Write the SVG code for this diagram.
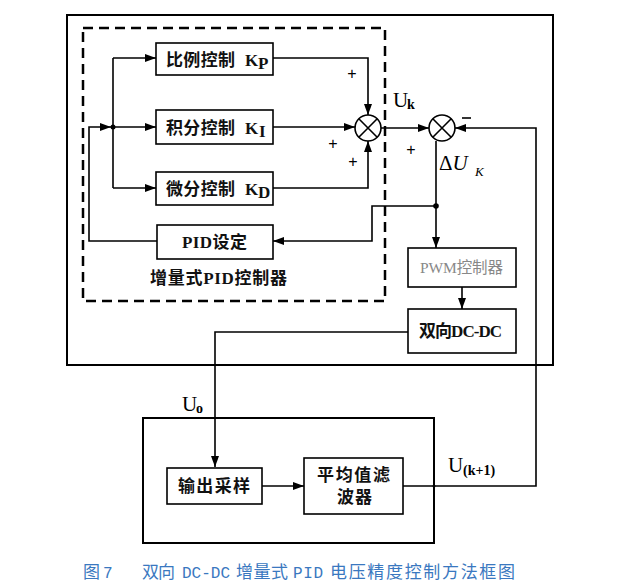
<svg xmlns="http://www.w3.org/2000/svg" width="621" height="587" viewBox="0 0 621 587">
<defs>
<marker id="ah" markerUnits="userSpaceOnUse" markerWidth="12" markerHeight="10" refX="11" refY="4" orient="auto">
<path d="M0,0 L11,4 L0,8 Z" fill="#000"/>
</marker>
<style>
.box{fill:#fff;stroke:#000;stroke-width:1.6}
.frame{fill:none;stroke:#000;stroke-width:2}
.dash{fill:none;stroke:#000;stroke-width:2.5;stroke-dasharray:10 6}
.ln{fill:none;stroke:#000;stroke-width:1.6}
.arr{fill:none;stroke:#000;stroke-width:1.6;marker-end:url(#ah)}
.t{font-family:"Liberation Serif","Noto Sans CJK SC",serif;font-weight:bold;font-size:17px;fill:#111}
.pm{font-family:"Liberation Sans",sans-serif;font-size:16px;fill:#000}
.lbl{font-family:"Liberation Serif",serif;font-size:21px;fill:#000}
.sub{font-family:"Liberation Serif",serif;font-weight:bold;font-size:14px;fill:#000}
.cap{font-family:"Noto Sans CJK SC",sans-serif;font-size:17px;fill:#3a78c0}
.capl{font-family:"Liberation Mono",monospace;font-size:16px;fill:#3a78c0}
</style>
</defs>
<rect width="621" height="587" fill="#fff"/>
<rect class="frame" x="67" y="15" width="486" height="350"/>
<rect class="dash" x="83" y="28" width="302" height="273"/>
<rect class="frame" x="143" y="418" width="291" height="125"/>

<g id="connectors">
<path class="arr" d="M157 241 H89 V127 H111"/>
<path class="ln" d="M113 58 V188"/>
<path class="arr" d="M113 58 H156"/>
<path class="arr" d="M113 127 H156"/>
<path class="arr" d="M113 188 H156"/>
<path class="arr" d="M273 58 H368 V115"/>
<path class="arr" d="M273 127 H355"/>
<path class="arr" d="M273 188 H368 V141"/>
<path class="arr" d="M381 128 H429"/>
<path class="arr" d="M403 486 H536 V128 H455"/>
<path class="arr" d="M436 141 V248"/>
<path class="arr" d="M436 206 H372 V241 H273"/>
<path class="arr" d="M462 287 V309"/>
<path class="arr" d="M408 332 H215 V467"/>
<path class="arr" d="M262 486 H304"/>
<circle cx="113" cy="127" r="2.5" fill="#000"/>
<circle cx="436" cy="206" r="2.8" fill="#000"/>
<circle cx="434" cy="486" r="1.5" fill="#000"/>
</g>

<g id="sum1">
<circle cx="368" cy="128" r="13" fill="#fff" stroke="#000" stroke-width="1.6"/>
<path class="ln" d="M358.8 118.8 L377.2 137.2 M377.2 118.8 L358.8 137.2"/>
</g>
<g id="sum2">
<circle cx="442" cy="128" r="13" fill="#fff" stroke="#000" stroke-width="1.6"/>
<path class="ln" d="M432.8 118.8 L451.2 137.2 M451.2 118.8 L432.8 137.2"/>
</g>

<g id="kp">
<rect class="box" x="156" y="43" width="117" height="32"/>
<text class="t" x="166" y="66" textLength="69">比例控制</text>
<text class="t" x="245" y="66" font-size="16">K</text><text class="t" x="258" y="69" font-size="11">P</text>
</g>
<g id="ki">
<rect class="box" x="156" y="110" width="117" height="34"/>
<text class="t" x="166" y="134" textLength="69">积分控制</text>
<text class="t" x="245" y="134" font-size="16">K</text><text class="t" x="259" y="137" font-size="11">I</text>
</g>
<g id="kd">
<rect class="box" x="156" y="172" width="117" height="33"/>
<text class="t" x="166" y="195" textLength="69">微分控制</text>
<text class="t" x="245" y="195" font-size="16">K</text><text class="t" x="258" y="198" font-size="11">D</text>
</g>
<g id="pidset">
<rect class="box" x="157" y="225" width="116" height="34"/>
<text class="t" x="182" y="248" textLength="65">PID设定</text>
</g>
<text class="t" x="150" y="284" textLength="137">增量式PID控制器</text>

<g id="pwm">
<rect class="box" x="408" y="248" width="108" height="39"/>
<text x="420" y="273" textLength="83" font-family="Liberation Serif,Noto Sans CJK SC,serif" font-size="15.5" fill="#888">PWM控制器</text>
</g>
<g id="dcdc">
<rect class="box" x="408" y="309" width="108" height="44"/>
<text class="t" x="419" y="337" textLength="83">双向DC-DC</text>
</g>
<g id="sample">
<rect class="box" x="167" y="468" width="95" height="36"/>
<text class="t" x="178" y="492" textLength="72">输出采样</text>
</g>
<g id="filter">
<rect class="box" x="304" y="458" width="99" height="56"/>
<text class="t" x="317" y="481" textLength="73">平均值滤</text>
<text class="t" x="337" y="503" textLength="35">波器</text>
</g>

<text class="pm" x="352" y="79" text-anchor="middle">+</text>
<text class="pm" x="333" y="149" text-anchor="middle">+</text>
<text class="pm" x="353" y="167" text-anchor="middle">+</text>
<text class="pm" x="411" y="155" text-anchor="middle">+</text>
<path class="ln" d="M462 118 H471" stroke-width="2"/>

<text class="lbl" x="393" y="107">U</text><text class="sub" x="407" y="109">k</text>
<text class="lbl" x="439" y="170">Δ<tspan font-style="italic">U</tspan></text><text x="475" y="176" font-family="Liberation Serif,serif" font-style="italic" font-size="13">K</text>
<text class="lbl" x="182" y="411">U</text><text class="sub" x="196" y="413">o</text>
<text class="lbl" x="448" y="472" font-size="22">U</text><text class="sub" x="463" y="475">(k+1)</text>

<text class="cap" x="83" y="578">图</text>
<text class="capl" x="103" y="578">7</text>
<text class="cap" x="142" y="578" textLength="33">双向</text>
<text class="capl" x="182" y="578" textLength="48">DC-DC</text>
<text class="cap" x="236" y="578" textLength="52">增量式</text>
<text class="capl" x="293" y="578" textLength="30">PID</text>
<text class="cap" x="330" y="578" textLength="185">电压精度控制方法框图</text>
</svg>
